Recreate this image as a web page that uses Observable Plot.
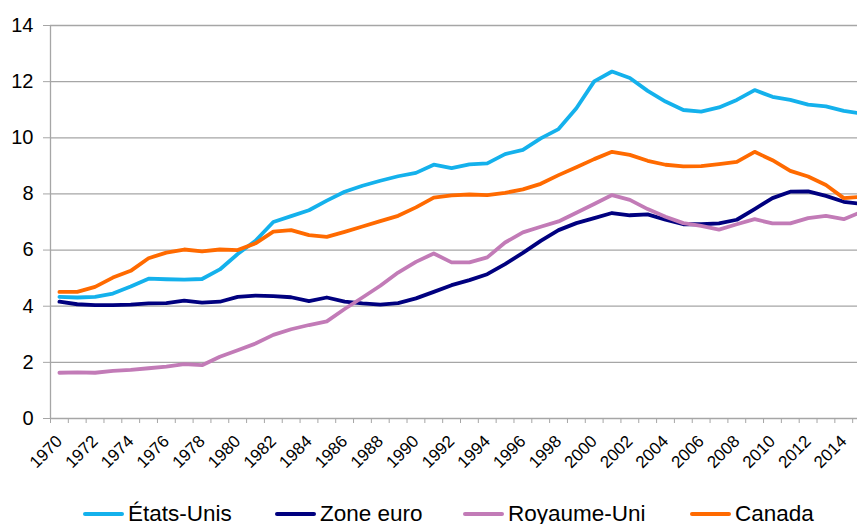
<!DOCTYPE html>
<html><head><meta charset="utf-8">
<script src="https://cdn.jsdelivr.net/npm/d3@7"></script>
<script src="https://cdn.jsdelivr.net/npm/@observablehq/plot@0.6"></script>
<style>
html,body{margin:0;padding:0;overflow:hidden;background:#fff;width:857px;height:524px}
#chart{position:relative;width:857px;height:524px;overflow:hidden;font-family:Arial,"Liberation Sans",sans-serif}
#chart svg{display:block;max-width:none !important}
#legend{position:absolute;left:0;top:500px;height:28px;width:857px}
.item{position:absolute;top:0;height:28px}
.sw{position:absolute;left:0;top:12px;width:41px;height:4px;border-radius:2px}
.lb{position:absolute;left:45px;top:0;line-height:28px;font-size:22.5px;color:#000;white-space:nowrap}
</style></head>
<body><div id="chart"></div>
<script>
const years = d3.range(1970, 2016);
const seriesNames = ["États-Unis", "Zone euro", "Royaume-Uni", "Canada"];
const seriesColors = ["#14b1ec", "#00007f", "#c27bb7", "#ff6a00"];
const etatsUnis = [4.33,4.31,4.33,4.45,4.70,4.98,4.96,4.95,4.97,5.31,
  5.86,6.33,7.00,7.21,7.42,7.76,8.08,8.29,8.47,8.63,
  8.75,9.04,8.92,9.05,9.09,9.42,9.57,9.98,10.31,11.05,
  12.01,12.36,12.13,11.67,11.29,10.99,10.93,11.08,11.35,11.70,
  11.46,11.35,11.18,11.12,10.96,10.86];
const zoneEuro = [4.16,4.07,4.04,4.04,4.06,4.10,4.11,4.20,4.13,4.16,
  4.33,4.38,4.36,4.32,4.18,4.31,4.16,4.10,4.06,4.11,
  4.28,4.51,4.75,4.93,5.14,5.50,5.90,6.33,6.71,6.96,
  7.14,7.32,7.24,7.27,7.08,6.92,6.92,6.95,7.08,7.46,
  7.85,8.08,8.09,7.93,7.72,7.64];
const royaumeUni = [1.63,1.64,1.63,1.70,1.73,1.79,1.85,1.94,1.90,2.20,
  2.43,2.67,2.98,3.18,3.33,3.46,3.90,4.31,4.73,5.20,
  5.58,5.88,5.56,5.56,5.74,6.27,6.63,6.83,7.02,7.33,
  7.64,7.96,7.79,7.46,7.19,6.96,6.86,6.73,6.92,7.10,
  6.95,6.95,7.14,7.22,7.10,7.36];
const canada = [4.51,4.51,4.69,5.02,5.26,5.71,5.91,6.02,5.95,6.02,
  6.00,6.24,6.66,6.71,6.53,6.47,6.65,6.84,7.03,7.22,
  7.52,7.87,7.95,7.98,7.96,8.04,8.16,8.36,8.67,8.95,
  9.24,9.50,9.39,9.18,9.04,8.98,8.99,9.06,9.14,9.50,
  9.20,8.82,8.62,8.32,7.85,7.90];
const yTicks = [0, 2, 4, 6, 8, 10, 12, 14];
const xLabelYears = d3.range(1970, 2016, 2);

const seriesValues = [etatsUnis, zoneEuro, royaumeUni, canada];
const data = seriesNames.flatMap((name, k) =>
  years.map((year, i) => ({year, value: seriesValues[k][i], name})));
const boundaries = d3.range(1969.5, 2016, 1);
const grey = "#a6a6a6";

const chart = Plot.plot({
  width: 880, height: 496,
  marginLeft: 50, marginRight: 10, marginTop: 25, marginBottom: 78,
  style: {fontFamily: 'Arial, "Liberation Sans", sans-serif', background: "#fff", color: "#000", overflow: "visible", maxWidth: "none"},
  x: {domain: [1969.5, 2015.5], axis: null},
  y: {domain: [0, 14], axis: null},
  color: {domain: seriesNames, range: seriesColors},
  marks: [
    Plot.ruleY(yTicks, {stroke: grey, strokeWidth: 1.3}),
    Plot.ruleX([1969.5], {stroke: grey, strokeWidth: 1.3}),
    Plot.axisY(yTicks, {tickSize: 7, tickPadding: 10, stroke: grey, fill: "#000", fontSize: 20, label: null, tickFormat: d => String(d)}),
    Plot.axisX(boundaries, {tickSize: 5, stroke: grey, label: null, tickFormat: () => ""}),
    Plot.text(xLabelYears, {x: d => d, frameAnchor: "bottom", text: d => String(d), rotate: -45,
      textAnchor: "end", lineAnchor: "middle", dy: 20, fontSize: 17, fill: "#000"}),
    Plot.line(data, {x: "year", y: "value", z: "name", stroke: "name", strokeWidth: 3.8, strokeLinejoin: "round", strokeLinecap: "round"})
  ]
});
const root = document.getElementById("chart");
root.appendChild(chart);

const legendLeft = [83, 275, 463, 690];
const legend = document.createElement("div");
legend.id = "legend";
seriesNames.forEach((name, k) => {
  const item = document.createElement("div");
  item.className = "item";
  item.style.left = legendLeft[k] + "px";
  const sw = document.createElement("span");
  sw.className = "sw";
  sw.style.background = seriesColors[k];
  const lb = document.createElement("span");
  lb.className = "lb";
  lb.textContent = name;
  item.appendChild(sw);
  item.appendChild(lb);
  legend.appendChild(item);
});
root.appendChild(legend);
</script>
</body></html>
